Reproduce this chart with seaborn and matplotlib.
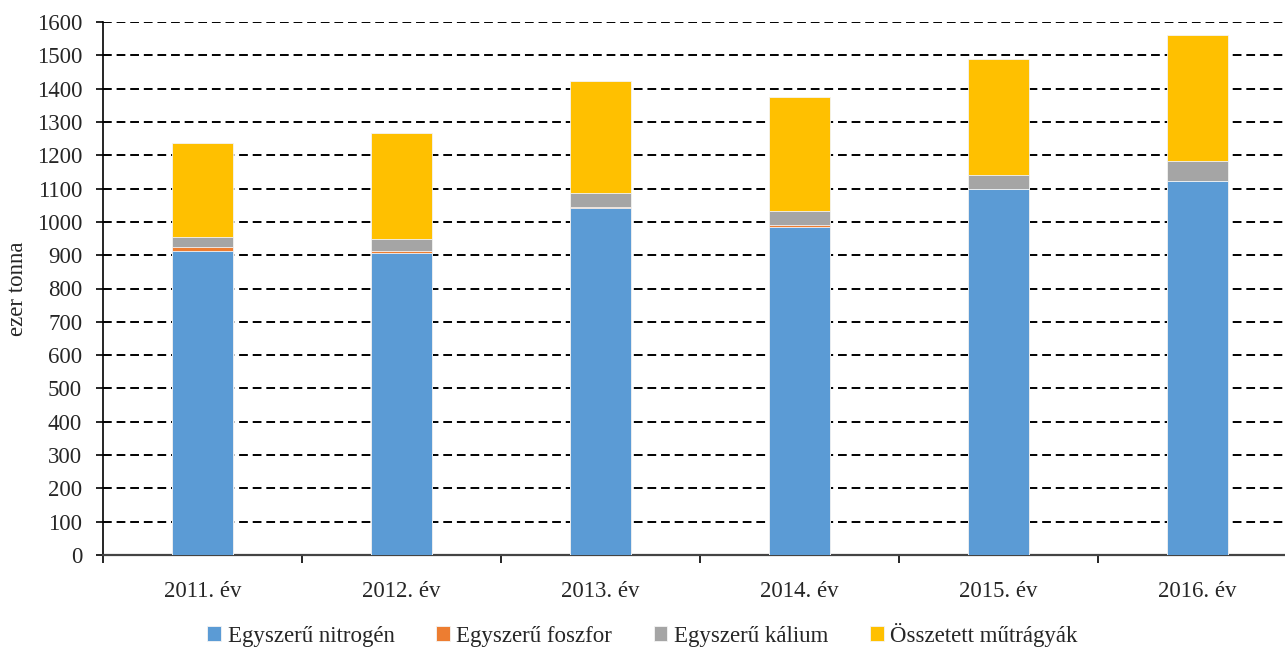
import pandas
import matplotlib
matplotlib.use('Agg')
import matplotlib.pyplot as plt
import seaborn
import numpy

evek = ['2011. év', '2012. év', '2013. év', '2014. év', '2015. év', '2016. év']
nitrogen = [913, 907, 1043, 985, 1098, 1122]
foszfor = [12, 7, 3, 7, 2, 2]
kalium = [30, 36, 42, 41, 42, 60]
osszetett = [282, 317, 335, 342, 346, 376]

nevek = ['Egyszerű nitrogén', 'Egyszerű foszfor', 'Egyszerű kálium', 'Összetett műtrágyák']
szinek = ['#5B9BD5', '#ED7D31', '#A5A5A5', '#FFC000']

df = pandas.DataFrame({'Ev': evek, nevek[0]: nitrogen, nevek[1]: foszfor,
                       nevek[2]: kalium, nevek[3]: osszetett})

seaborn.set_style('white')
plt.rcParams['font.family'] = ['Liberation Serif', 'DejaVu Serif']
meret = 16.5

fig = plt.figure(figsize=(12.85, 6.48), dpi=100)
ax = fig.add_axes([103 / 1285, 93 / 648, 1194 / 1285, 533 / 648])

# halmozott oszlopok: osszegek felulrol lefele rajzolva
kumulalt = df[nevek].cumsum(axis=1)
for i in range(len(nevek) - 1, -1, -1):
    seaborn.barplot(x=df['Ev'], y=kumulalt[nevek[i]], color=szinek[i], width=0.31,
                    saturation=1, edgecolor='#f4f4f4', linewidth=0.6, ax=ax,
                    label=nevek[i], zorder=3)
if ax.get_legend() is not None:
    ax.get_legend().remove()

ax.set_xlim(-0.5, 5.5)
ax.set_ylim(0, 1600)
ax.set_yticks(range(0, 1601, 100))
ax.set_xticks(numpy.arange(-0.5, 6, 1), minor=True)
ax.tick_params(axis='x', which='major', bottom=False, length=0, pad=19, labelsize=meret)
ax.tick_params(axis='x', which='minor', bottom=True, length=6, width=1.2, color='black', direction='out')
ax.tick_params(axis='y', left=True, length=5, width=1.2, color='black', direction='out',
               labelsize=meret, pad=10)

for v in range(100, 1601, 100):
    ax.axhline(v, color='black', linestyle=(0, (4.5, 2.5)), linewidth=1.4, zorder=1)

for s in ['top', 'right']:
    ax.spines[s].set_visible(False)
ax.spines['left'].set_color('black')
ax.spines['left'].set_linewidth(1.2)
ax.spines['bottom'].set_color('#444444')
ax.spines['bottom'].set_linewidth(1.6)

ax.set_xlabel('')
ax.set_ylabel('ezer tonna', fontsize=meret, labelpad=6)

handles, labels = ax.get_legend_handles_labels()
sorrend = [labels.index(n) for n in nevek]
fig.legend([handles[i] for i in sorrend], nevek, loc='lower center', ncol=4,
           bbox_to_anchor=(0.5, -0.03), frameon=False, fontsize=meret,
           handlelength=0.6, handleheight=0.6, handletextpad=0.3, columnspacing=1.8)

fig.savefig('out.png', dpi=100)
